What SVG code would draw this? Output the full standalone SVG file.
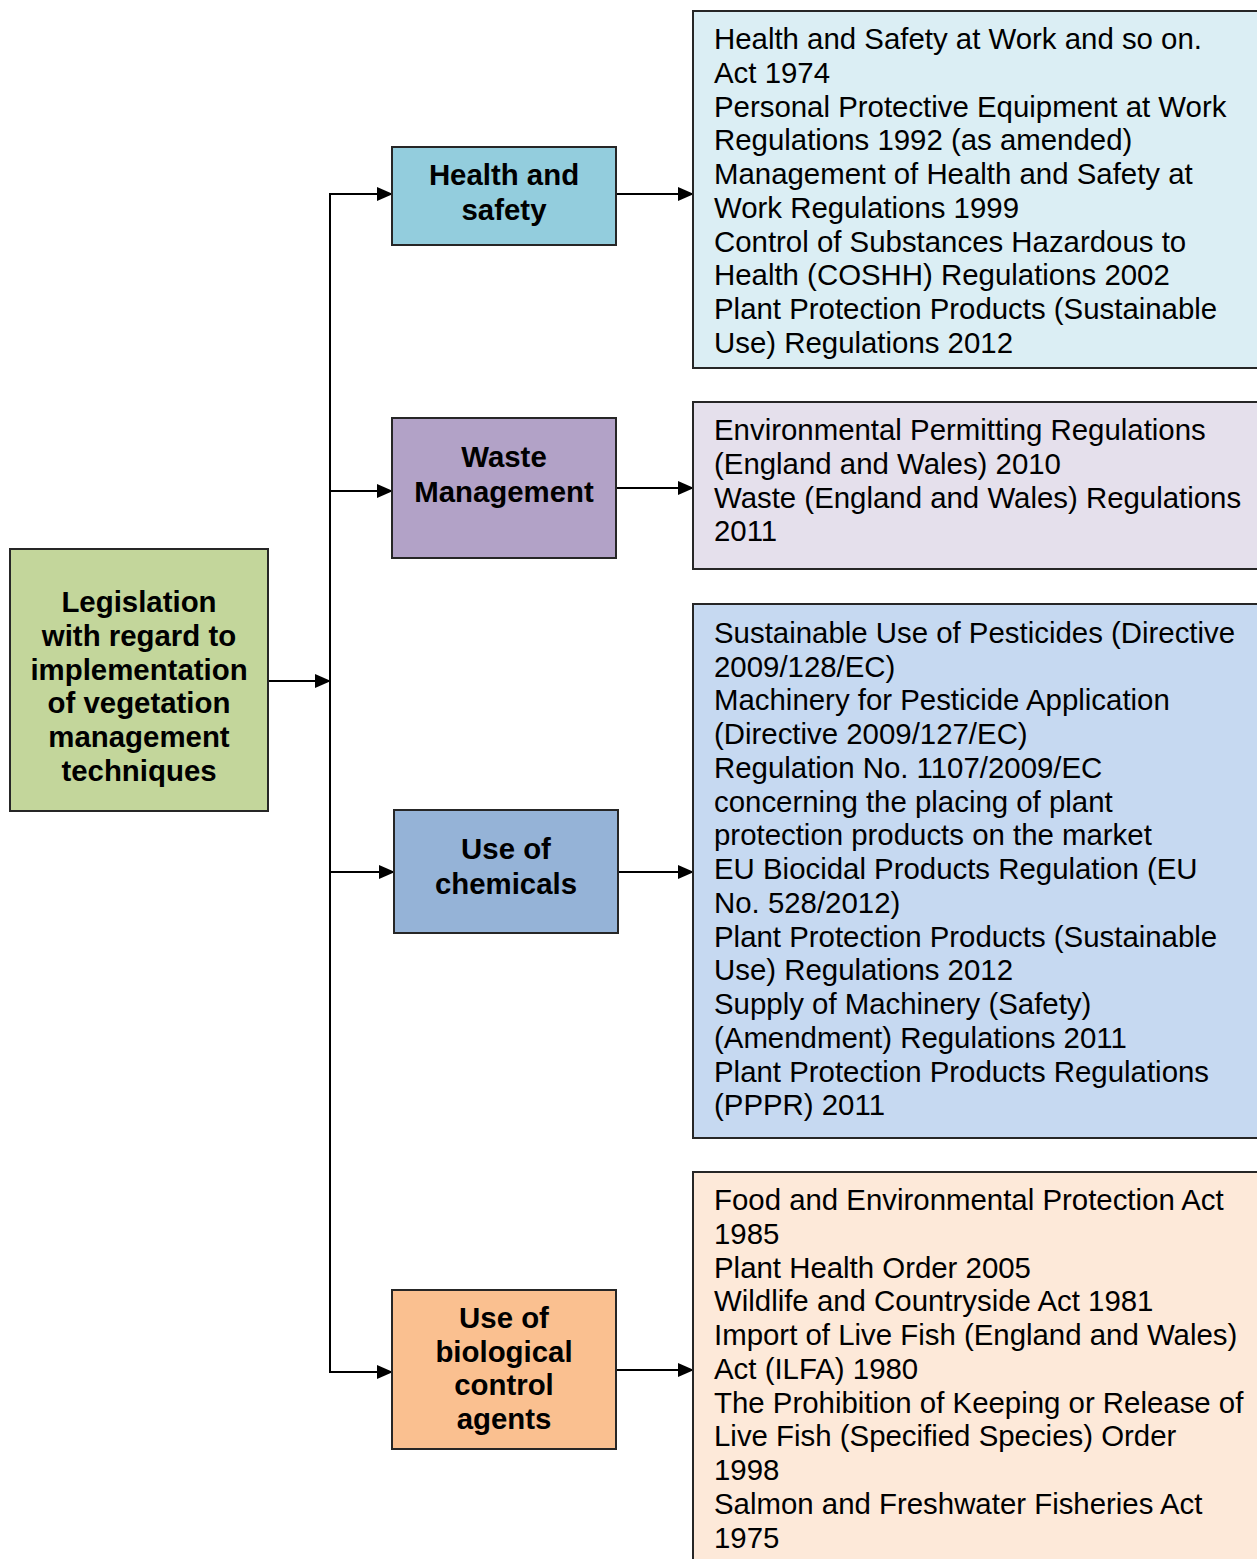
<svg xmlns="http://www.w3.org/2000/svg" width="1257" height="1559" viewBox="0 0 1257 1559">
  <style>
    .box { stroke: #262626; stroke-width: 2; }
    .head { font-family: "Liberation Sans", Arial, sans-serif; font-size: 29.4px; font-weight: bold; fill: #000; text-anchor: middle; }
    .list { font-family: "Liberation Sans", Arial, sans-serif; font-size: 29.4px; fill: #000; }
    .wire { stroke: #000; stroke-width: 2; fill: none; }
  </style>
  <defs>
    <marker id="arrow" markerWidth="16" markerHeight="14" refX="15" refY="7" orient="auto" markerUnits="userSpaceOnUse">
      <path d="M0,0 L16,7 L0,14 Z" fill="#000"/>
    </marker>
  </defs>
  <rect width="1257" height="1559" fill="#fff"/>

  <!-- connectors -->
  <g id="connectors">
    <line class="wire" x1="268" y1="681" x2="330" y2="681" marker-end="url(#arrow)"/>
    <line class="wire" x1="330" y1="193" x2="330" y2="1373"/>
    <line class="wire" x1="329" y1="194" x2="392" y2="194" marker-end="url(#arrow)"/>
    <line class="wire" x1="329" y1="491" x2="392" y2="491" marker-end="url(#arrow)"/>
    <line class="wire" x1="329" y1="872" x2="394" y2="872" marker-end="url(#arrow)"/>
    <line class="wire" x1="329" y1="1372" x2="392" y2="1372" marker-end="url(#arrow)"/>
    <line class="wire" x1="616" y1="194" x2="693" y2="194" marker-end="url(#arrow)"/>
    <line class="wire" x1="616" y1="488" x2="693" y2="488" marker-end="url(#arrow)"/>
    <line class="wire" x1="618" y1="872" x2="693" y2="872" marker-end="url(#arrow)"/>
    <line class="wire" x1="616" y1="1370" x2="693" y2="1370" marker-end="url(#arrow)"/>
  </g>

  <!-- root -->
  <g id="root">
    <rect class="box" x="10" y="549" width="258" height="262" fill="#c3d69b"/>
    <text class="head" x="139" y="612">Legislation</text>
    <text class="head" x="139" y="646">with regard to</text>
    <text class="head" x="139" y="680">implementation</text>
    <text class="head" x="139" y="713">of vegetation</text>
    <text class="head" x="139" y="747">management</text>
    <text class="head" x="139" y="781">techniques</text>
  </g>

  <!-- categories -->
  <g id="health-safety">
    <rect class="box" x="392" y="147" width="224" height="98" fill="#93cddd"/>
    <text class="head" x="504" y="185">Health and</text>
    <text class="head" x="504" y="220">safety</text>
  </g>
  <g id="waste-management">
    <rect class="box" x="392" y="418" width="224" height="140" fill="#b2a2c7"/>
    <text class="head" x="504" y="467">Waste</text>
    <text class="head" x="504" y="502">Management</text>
  </g>
  <g id="use-of-chemicals">
    <rect class="box" x="394" y="810" width="224" height="123" fill="#95b3d7"/>
    <text class="head" x="506" y="859">Use of</text>
    <text class="head" x="506" y="894">chemicals</text>
  </g>
  <g id="biological-control">
    <rect class="box" x="392" y="1290" width="224" height="159" fill="#fac090"/>
    <text class="head" x="504" y="1328">Use of</text>
    <text class="head" x="504" y="1362">biological</text>
    <text class="head" x="504" y="1395">control</text>
    <text class="head" x="504" y="1429">agents</text>
  </g>

  <!-- legislation lists -->
  <g id="health-safety-acts">
    <rect class="box" x="693" y="11" width="580" height="357" fill="#dbeef4"/>
    <text class="list">
      <tspan x="714" y="49">Health and Safety at Work and so on.</tspan>
      <tspan x="714" y="83">Act 1974</tspan>
      <tspan x="714" y="117">Personal Protective Equipment at Work</tspan>
      <tspan x="714" y="150">Regulations 1992 (as amended)</tspan>
      <tspan x="714" y="184">Management of Health and Safety at</tspan>
      <tspan x="714" y="218">Work Regulations 1999</tspan>
      <tspan x="714" y="252">Control of Substances Hazardous to</tspan>
      <tspan x="714" y="285">Health (COSHH) Regulations 2002</tspan>
      <tspan x="714" y="319">Plant Protection Products (Sustainable</tspan>
      <tspan x="714" y="353">Use) Regulations 2012</tspan>
    </text>
  </g>
  <g id="waste-acts">
    <rect class="box" x="693" y="402" width="580" height="167" fill="#e5e0ec"/>
    <text class="list">
      <tspan x="714" y="440">Environmental Permitting Regulations</tspan>
      <tspan x="714" y="474">(England and Wales) 2010</tspan>
      <tspan x="714" y="508">Waste (England and Wales) Regulations</tspan>
      <tspan x="714" y="541">2011</tspan>
    </text>
  </g>
  <g id="chemical-acts">
    <rect class="box" x="693" y="604" width="580" height="534" fill="#c6d9f1"/>
    <text class="list">
      <tspan x="714" y="643">Sustainable Use of Pesticides (Directive</tspan>
      <tspan x="714" y="677">2009/128/EC)</tspan>
      <tspan x="714" y="710">Machinery for Pesticide Application</tspan>
      <tspan x="714" y="744">(Directive 2009/127/EC)</tspan>
      <tspan x="714" y="778">Regulation No. 1107/2009/EC</tspan>
      <tspan x="714" y="812">concerning the placing of plant</tspan>
      <tspan x="714" y="845">protection products on the market</tspan>
      <tspan x="714" y="879">EU Biocidal Products Regulation (EU</tspan>
      <tspan x="714" y="913">No. 528/2012)</tspan>
      <tspan x="714" y="947">Plant Protection Products (Sustainable</tspan>
      <tspan x="714" y="980">Use) Regulations 2012</tspan>
      <tspan x="714" y="1014">Supply of Machinery (Safety)</tspan>
      <tspan x="714" y="1048">(Amendment) Regulations 2011</tspan>
      <tspan x="714" y="1082">Plant Protection Products Regulations</tspan>
      <tspan x="714" y="1115">(PPPR) 2011</tspan>
    </text>
  </g>
  <g id="biological-acts">
    <rect class="box" x="693" y="1172" width="580" height="400" fill="#fde9d9"/>
    <text class="list">
      <tspan x="714" y="1210">Food and Environmental Protection Act</tspan>
      <tspan x="714" y="1244">1985</tspan>
      <tspan x="714" y="1278">Plant Health Order 2005</tspan>
      <tspan x="714" y="1311">Wildlife and Countryside Act 1981</tspan>
      <tspan x="714" y="1345">Import of Live Fish (England and Wales)</tspan>
      <tspan x="714" y="1379">Act (ILFA) 1980</tspan>
      <tspan x="714" y="1413">The Prohibition of Keeping or Release of</tspan>
      <tspan x="714" y="1446">Live Fish (Specified Species) Order</tspan>
      <tspan x="714" y="1480">1998</tspan>
      <tspan x="714" y="1514">Salmon and Freshwater Fisheries Act</tspan>
      <tspan x="714" y="1548">1975</tspan>
    </text>
  </g>
</svg>
